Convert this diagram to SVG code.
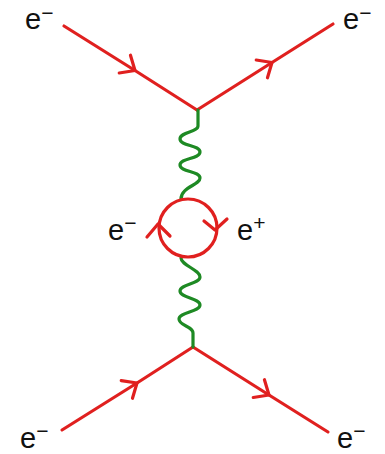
<svg xmlns="http://www.w3.org/2000/svg" width="385" height="454" viewBox="0 0 385 454">
<defs>
<style>
.fermion{fill:none;stroke:#e0201f;stroke-width:3.2;stroke-linecap:round;stroke-linejoin:round}
.photon{fill:none;stroke:#1e8a24;stroke-width:3.2;stroke-linecap:round}
.lbl{font-family:"Liberation Sans",Arial,sans-serif;font-size:29px;fill:#111}
.sup{font-size:21px}
</style>
<marker id="arr" markerUnits="userSpaceOnUse" markerWidth="30" markerHeight="30" viewBox="-15 -15 30 30" refX="0" refY="0" orient="auto">
<path d="M-12,-10.5 L0,0 L-12,10.5" fill="none" stroke="#e0201f" stroke-width="3.2" stroke-linecap="round" stroke-linejoin="round"/>
</marker>
</defs>
<rect width="385" height="454" fill="#fff"/>
<g id="connectors">
<path class="fermion" d="M64,26 L135,70.5 L197,110" marker-mid="url(#arr)"/>
<path class="fermion" d="M197,110 L272,62.5 L333,24" marker-mid="url(#arr)"/>
<path class="fermion" d="M62,430 L137,383 L193,347" marker-mid="url(#arr)"/>
<path class="fermion" d="M193,347 L269,395 L328,432" marker-mid="url(#arr)"/>
<path class="photon" d="M198,110 V126 C198,132 180,132 180,139 C180,146 200,145 200,152 C200,159 180,158 180,165 C180,172 200,171 200,178 C200,185 181,187 181,199"/>
<path class="photon" d="M181,258 C181,265 200,270 200,277 C200,284 180,284 180,291 C180,298 200,298 200,305 C200,312 179,312 179,319 C179,326 193,326 193,333 V347"/>
</g>
<g id="loop">
<circle class="fermion" cx="188" cy="228" r="29"/>
<polyline class="fermion" points="147,237 158,224 170,236"/>
<polyline class="fermion" points="204,221 215,230 227,219"/>
</g>
<g id="label-tl"><text class="lbl" x="25" y="29">e<tspan class="sup" dy="-9">−</tspan></text></g>
<g id="label-tr"><text class="lbl" x="343" y="29">e<tspan class="sup" dy="-9">−</tspan></text></g>
<g id="label-ml"><text class="lbl" x="108" y="240">e<tspan class="sup" dy="-10">−</tspan></text></g>
<g id="label-mr"><text class="lbl" x="237" y="240">e<tspan class="sup" dy="-10">+</tspan></text></g>
<g id="label-bl"><text class="lbl" x="20" y="448">e<tspan class="sup" dy="-10">−</tspan></text></g>
<g id="label-br"><text class="lbl" x="337" y="448">e<tspan class="sup" dy="-10">−</tspan></text></g>
</svg>
